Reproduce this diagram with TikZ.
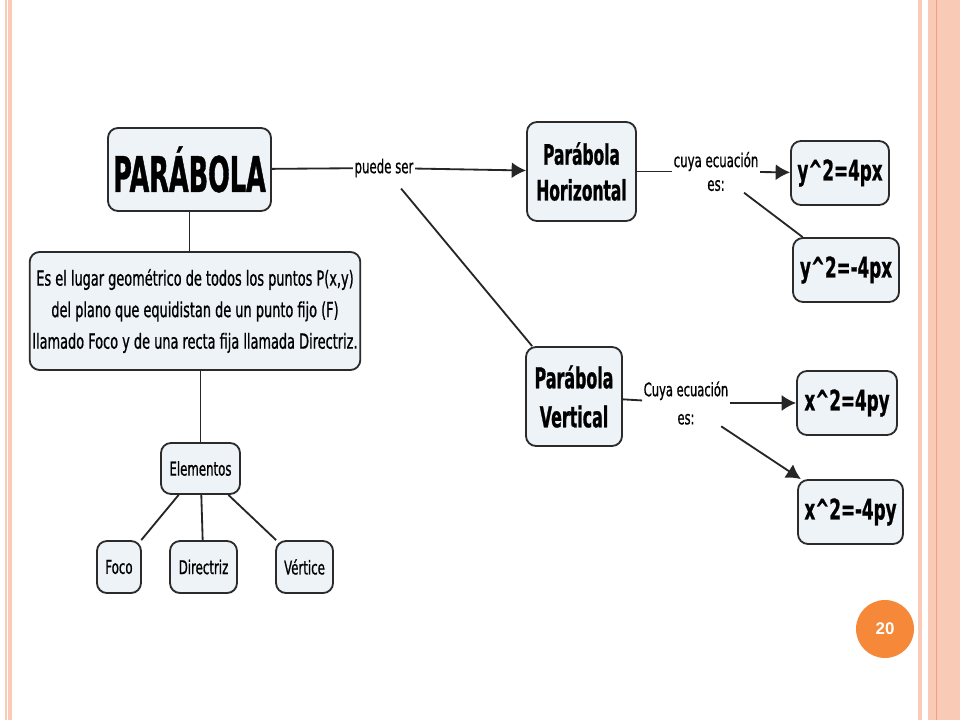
\documentclass[tikz,border=0pt]{standalone}
\usepackage{fontspec}
\setmainfont{DejaVu Sans}[FakeStretch=0.62, FakeBold=0.8]
\newfontfamily\titlefont{DejaVu Sans}[FakeStretch=0.52, BoldFeatures={FakeBold=0.8}]
\newfontfamily\kindfont{DejaVu Sans}[FakeStretch=0.55, BoldFeatures={FakeBold=0.8}]
\newfontfamily\boldfont{DejaVu Sans}[FakeStretch=0.59, BoldFeatures={FakeBold=0.8}]
\newfontfamily\numfont{Liberation Sans}
\usetikzlibrary{arrows.meta}
\definecolor{boxfill}{HTML}{EEF3F7}
\definecolor{boxline}{HTML}{2B2B2B}
\definecolor{stripe}{HTML}{F9CAB6}
\definecolor{stripedark}{HTML}{F3A07A}
\definecolor{pagenum}{HTML}{F6883A}

\begin{document}
\begin{tikzpicture}[x=0.025cm, y=-0.025cm]
    % Styles
    \tikzstyle{block} = [rectangle, draw=boxline, fill=boxfill, line width=1.3pt, rounded corners=0.25cm, text centered, align=center, inner sep=2pt]
    \tikzstyle{small} = [block, font=\fontsize{13.5}{16}\selectfont, minimum height=1.3cm]
    \tikzstyle{eq} = [block, font=\boldfont\bfseries\fontsize{20.2}{24}\selectfont, minimum height=1.6cm]
    \tikzstyle{kind} = [block, font=\kindfont\bfseries\fontsize{20}{25.4}\selectfont, minimum height=2.475cm]
    \tikzstyle{link} = [align=center, inner sep=1pt, font=\fontsize{13.5}{16.8}\selectfont]
    \tikzstyle{line} = [draw=black!85, line width=1.3pt]
    \tikzstyle{arrow} = [line, -{Latex[length=3.6mm,width=4mm]}]

    % Slide background
    \useasboundingbox (0,0) rectangle (960,720);
    \fill [white] (0,0) rectangle (960,720);
    \fill [stripe] (5,0) rectangle (6.5,720);
    \fill [stripe] (8,0) rectangle (11.5,720);
    \fill [stripe] (918,0) rectangle (922,720);
    \fill [stripe] (928,0) rectangle (960,720);
    \draw [stripedark, line width=0.8pt] (936.5,0) -- (936.5,720);

    % Nodes
    \node [block, font=\titlefont\bfseries\fontsize{34.9}{40}\selectfont, minimum width=4.075cm, minimum height=2.075cm] (parabola) at (189.5,169.5) {PARÁBOLA};
    \node [block, font=\fontsize{14.8}{22.4}\selectfont, minimum width=8.2cm, minimum height=2.95cm] (definicion) at (195,311) {Es el lugar geométrico de todos los puntos P(x,y)\\del plano que equidistan de un punto fijo (F)\\llamado Foco y de una recta fija llamada Directriz.};
    \node [small, minimum width=1.975cm, minimum height=1.275cm] (elementos) at (200.5,468.5) {Elementos};
    \node [small, below of=elementos, node distance=2.4625cm, xshift=-2.0375cm, minimum width=1.1cm] (foco) {Foco};
    \node [small, below of=elementos, node distance=2.4625cm, xshift=0.075cm, minimum width=1.675cm] (directriz) {Directriz};
    \node [small, below of=elementos, node distance=2.4625cm, xshift=2.6cm, minimum width=1.425cm] (vertice) {Vértice};

    \node [link, font=\fontsize{13.5}{16}\selectfont] (puede) at (384,168) {puede ser};
    \node [kind, minimum width=2.725cm] (horizontal) at (581.5,171.5) {Parábola\\Horizontal};
    \node [link, right of=horizontal, node distance=3.3625cm] (cuyah) {cuya ecuación\\es:};
    \node [eq, minimum width=2.45cm] (eqa) at (840,173) {y\textasciicircum 2=4px};
    \node [eq, minimum width=2.65cm] (eqb) at (846,270) {y\textasciicircum 2=-4px};

    \node [kind, font=\kindfont\bfseries\fontsize{20.5}{27.7}\selectfont, minimum width=2.4cm] (vertical) at (574,396.5) {Parábola\\Vertical};
    \node [link, font=\fontsize{13.2}{20}\selectfont] (cuyav) at (686,403) {Cuya ecuación\\es:};
    \node [eq, minimum width=2.5cm] (eqc) at (847,403) {x\textasciicircum 2=4py};
    \node [eq, minimum width=2.625cm] (eqd) at (850.5,512) {x\textasciicircum 2=-4py};

    \node [circle, fill=pagenum, minimum size=1.45cm, inner sep=0pt, text=white, font=\numfont\bfseries\fontsize{12}{14}\selectfont] (pagina) at (885,629) {20};

    % Connections
    \path [line] (parabola.south) -- (parabola.south |- definicion.north);
    \path [line] (elementos.north |- definicion.south) -- (elementos.north);
    \path [line] (elementos) -- (foco);
    \path [line] (elementos) -- (directriz);
    \path [line] (elementos) -- (vertice);

    \path [line] (parabola) -- (puede);
    \path [arrow] (puede) -- (horizontal);
    \path [line, shorten <=9pt] (puede) -- (vertical);

    \path [line] (horizontal) -- (cuyah);
    \path [arrow] (cuyah) -- (eqa);
    \path [line] (cuyah) -- (eqb);

    \path [line] (vertical) -- (cuyav);
    \path [arrow] (cuyav) -- (eqc);
    \path [arrow] (cuyav) -- (eqd);

\end{tikzpicture}
\end{document}
